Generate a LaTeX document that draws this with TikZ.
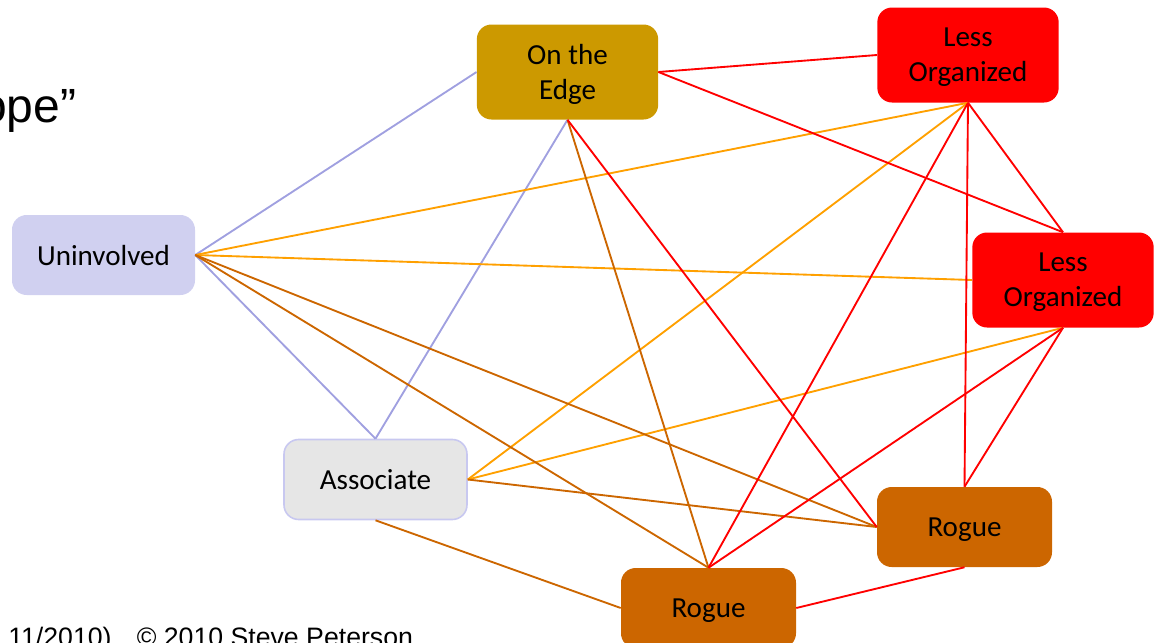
\documentclass[tikz,border=0pt]{standalone}
\usepackage{fontspec}
\setmainfont{Carlito}
\newfontfamily\slidefont{Liberation Sans}
\begin{document}
\begin{tikzpicture}[x=0.75pt,y=0.75pt,yscale=-1,xscale=1,
  box/.style={rounded corners=11pt, inner sep=0pt, align=center, text=black, text depth=0pt, font=\fontsize{21.8}{26.3}\selectfont},
  tall/.style={minimum width=136pt, minimum height=71.25pt},
  flat/.style={minimum width=137.25pt, minimum height=60pt},
  rogue/.style={box, minimum width=131.25pt, minimum height=60pt, fill={rgb, 255:red, 204; green, 102; blue, 0 }},
  lav/.style={draw={rgb, 255:red, 160; green, 160; blue, 224 }, line width=1.4pt},
  amber/.style={draw={rgb, 255:red, 255; green, 160; blue, 0 }, line width=1.4pt},
  rust/.style={draw={rgb, 255:red, 204; green, 102; blue, 0 }, line width=1.4pt},
  scarlet/.style={draw={rgb, 255:red, 255; green, 0; blue, 0 }, line width=1.4pt}]
\useasboundingbox (0,0) rectangle (1154,643);

%Shape: Rounded Rect
\node [box, flat, fill={rgb, 255:red, 208; green, 208; blue, 240 }] (uninv) at (103.5,255) {Uninvolved};
%Shape: Rounded Rect
\node [box, tall, fill={rgb, 255:red, 204; green, 153; blue, 0 }] (edge) at (567.5,72) {On the\\Edge};
%Shape: Rounded Rect
\node [box, tall, fill={rgb, 255:red, 255; green, 0; blue, 0 }] (lessA) at (968,55) {Less\\Organized};
%Shape: Rounded Rect
\node [box, tall, fill={rgb, 255:red, 255; green, 0; blue, 0 }] (lessB) at (1063,280) {Less\\Organized};
%Shape: Rounded Rect
\node [box, flat, fill={rgb, 255:red, 230; green, 230; blue, 230 }, draw={rgb, 255:red, 200; green, 200; blue, 240 }, line width=1.2pt] (assoc) at (375.5,479.5) {Associate};
%Shape: Rounded Rect
\node [rogue] (rogueA) at (964.5,527) {Rogue};
%Shape: Rounded Rect
\node [rogue] (rogueB) at (708.5,608) {Rogue};

%Straight Lines
\draw [lav] (uninv.east) -- (edge.west);
\draw [lav] (uninv.east) -- (assoc.north);
\draw [lav] (assoc.north) -- (edge.south);
%Straight Lines
\draw [amber] (uninv.east) -- (lessA.south);
\draw [amber] (uninv.east) -- (lessB.west);
\draw [amber] (assoc.east) -- (lessA.south);
\draw [amber] (assoc.east) -- (lessB.south);
%Straight Lines
\draw [rust] (edge.south) -- (rogueB.north);
\draw [rust] (uninv.east) -- (rogueB.north);
\draw [rust] (uninv.east) -- (rogueA.west);
\draw [rust] (assoc.east) -- (rogueA.west);
\draw [rust] (assoc.south) -- (rogueB.west);
%Straight Lines
\draw [scarlet] (edge.east) -- (lessA.west);
\draw [scarlet] (edge.east) -- (lessB.north);
\draw [scarlet] (edge.south) -- (rogueA.west);
\draw [scarlet] (lessA.south) -- (lessB.north);
\draw [scarlet] (lessA.south) -- (rogueA.north);
\draw [scarlet] (lessA.south) -- (rogueB.north);
\draw [scarlet] (lessB.south) -- (rogueA.north);
\draw [scarlet] (lessB.south) -- (rogueB.north);
\draw [scarlet] (rogueA.south) -- (rogueB.east);

% Text Node
\node [anchor=base west, inner sep=0pt, font=\slidefont\fontsize{36}{43}\selectfont] (title) at (-20,122) {ope”};
% Text Node
\node [anchor=base west, inner sep=0pt, font=\slidefont\fontsize{20}{24}\selectfont] (footer) at (8,646) {11/2010)\hspace{19pt}© 2010 Steve Peterson};

\end{tikzpicture}
\end{document}
